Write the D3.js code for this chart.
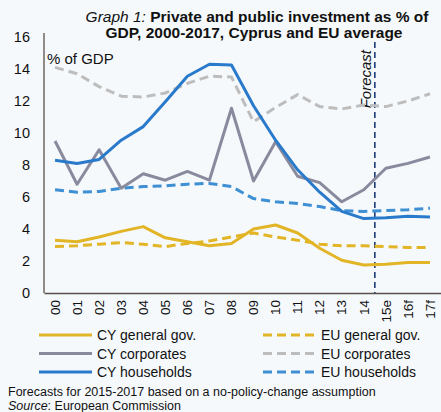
<!DOCTYPE html>
<html>
<head>
<meta charset="utf-8">
<script src="https://cdn.jsdelivr.net/npm/d3@7"></script>
<style>
  body { margin: 0; background: #f6f9fc; }
  svg { display: block; font-family: "Liberation Sans", Arial, sans-serif; }
  .lbl { fill: #111; }
</style>
</head>
<body>
<div id="chart"></div>
<script>

/*
 * Data.
 */

var years = ['00', '01', '02', '03', '04', '05', '06', '07', '08', '09',
  '10', '11', '12', '13', '14', '15e', '16f', '17f'];

var cyGov = [3.3, 3.2, 3.5, 3.85, 4.15, 3.45, 3.2, 2.95, 3.1, 4.0,
  4.25, 3.75, 2.8, 2.05, 1.75, 1.8, 1.9, 1.9];
var euGov = [2.9, 2.95, 3.05, 3.15, 3.05, 2.9, 3.1, 3.25, 3.5, 3.75,
  3.5, 3.3, 3.05, 2.95, 2.95, 2.9, 2.85, 2.85];
var cyCorp = [9.5, 6.8, 8.95, 6.55, 7.45, 7.05, 7.6, 7.05, 11.55, 7.0,
  9.45, 7.3, 6.9, 5.7, 6.45, 7.8, 8.1, 8.5];
var euCorp = [14.1, 13.7, 12.9, 12.3, 12.25, 12.5, 13.1, 13.55, 13.5, 10.7,
  11.6, 12.4, 11.65, 11.5, 11.75, 11.65, 12.0, 12.45];
var cyHouse = [8.3, 8.1, 8.35, 9.55, 10.4, 11.95, 13.55, 14.3, 14.25, 11.7,
  9.55, 7.7, 6.3, 5.1, 4.65, 4.7, 4.8, 4.75];
var euHouse = [6.45, 6.3, 6.35, 6.55, 6.65, 6.7, 6.8, 6.85, 6.65, 5.9,
  5.7, 5.6, 5.4, 5.15, 5.1, 5.15, 5.2, 5.3];

var yTicks = [0, 2, 4, 6, 8, 10, 12, 14, 16];

// Series definitions (drawing order: back to front).
var series = [
  { name: 'EU general gov.', values: euGov, color: '#e2b527', dash: true },
  { name: 'EU corporates', values: euCorp, color: '#bdbdbd', dash: true },
  { name: 'EU households', values: euHouse, color: '#3e8fd3', dash: true },
  { name: 'CY general gov.', values: cyGov, color: '#e2b527', dash: false },
  { name: 'CY corporates', values: cyCorp, color: '#8a8a9e', dash: false },
  { name: 'CY households', values: cyHouse, color: '#2a7acb', dash: false }
];

/*
 * Chart.
 */

var width = 441;
var height = 412;
var plot = { left: 44, right: 441, top: 37, bottom: 293 };

var svg = d3.select('#chart').append('svg:svg')
  .attr('width', width)
  .attr('height', height);

// Scales.
var x = d3.scaleBand()
  .domain(years)
  .range([plot.left, plot.right])
  .padding(0);
var y = d3.scaleLinear()
  .domain([0, 16])
  .range([plot.bottom, plot.top]);

var cx = function(d) { return x(d) + x.bandwidth() / 2; };

// Title.
var title = svg.append('svg:text')
  .attr('class', 'lbl')
  .attr('text-anchor', 'middle')
  .style('font-size', '15.5px');
title.append('svg:tspan')
  .attr('x', 257).attr('y', 22)
  .style('font-style', 'italic')
  .text('Graph 1: ');
title.append('svg:tspan')
  .style('font-weight', 'bold')
  .text('Private and public investment as % of');
title.append('svg:tspan')
  .attr('x', 254).attr('y', 38)
  .style('font-weight', 'bold')
  .text('GDP, 2000-2017, Cyprus and EU average');

// Y axis.
var yAxis = svg.append('svg:g')
  .attr('transform', 'translate(' + plot.left + ',0)')
  .call(d3.axisLeft(y).tickValues(yTicks).tickSize(0).tickPadding(14));
yAxis.select('.domain').attr('stroke', '#5a4f4a').attr('stroke-width', 1.3)
  .attr('d', 'M0,' + (plot.top - 4) + 'V' + plot.bottom);
yAxis.selectAll('text')
  .attr('class', 'lbl')
  .style('font-size', '14.5px')
  .style('font-family', '"Liberation Sans", Arial, sans-serif');

// X axis.
var xAxis = svg.append('svg:g')
  .attr('transform', 'translate(0,' + plot.bottom + ')')
  .call(d3.axisBottom(x).tickSize(0));
xAxis.select('.domain').attr('stroke', '#5a4f4a').attr('stroke-width', 1.3);
xAxis.selectAll('text')
  .attr('class', 'lbl')
  .attr('transform', 'rotate(-90)')
  .attr('text-anchor', 'end')
  .attr('x', -7)
  .attr('y', 0)
  .attr('dy', '0.35em')
  .style('font-size', '13.5px')
  .style('font-family', '"Liberation Sans", Arial, sans-serif');

// Unit label.
svg.append('svg:text')
  .attr('class', 'lbl')
  .attr('x', 47)
  .attr('y', 64)
  .style('font-size', '15px')
  .text('% of GDP');

// Forecast divider.
var fx = x('15e');
svg.append('svg:line')
  .attr('x1', fx).attr('x2', fx)
  .attr('y1', 42).attr('y2', plot.bottom)
  .attr('stroke', '#1f3b7a')
  .attr('stroke-width', 1.6)
  .attr('stroke-dasharray', '6,4');
svg.append('svg:text')
  .attr('class', 'lbl')
  .attr('transform', 'translate(' + (fx - 4) + ',50) rotate(-90)')
  .attr('text-anchor', 'end')
  .style('font-size', '15px')
  .style('font-style', 'italic')
  .text('Forecast');

// Lines.
var line = d3.line()
  .x(function(d, i) { return cx(years[i]); })
  .y(function(d) { return y(d); });

var lines = svg.append('svg:g');
series.forEach(function(s) {
  lines.append('svg:path')
    .attr('d', line(s.values))
    .attr('fill', 'none')
    .attr('stroke', s.color)
    .attr('stroke-width', 3)
    .attr('stroke-linejoin', 'round')
    .attr('stroke-dasharray', s.dash ? '9,5' : null);
});

// Legend: CY solid on the left, EU dashed on the right.
var legend = [
  [series[3], series[0]],
  [series[4], series[1]],
  [series[5], series[2]]
];
legend.forEach(function(row, r) {
  var ly = 335 + r * 18.5;
  row.forEach(function(s, c) {
    var lx = c === 0 ? 39 : 263;
    svg.append('svg:line')
      .attr('x1', lx).attr('x2', lx + 53)
      .attr('y1', ly).attr('y2', ly)
      .attr('stroke', s.color)
      .attr('stroke-width', 3)
      .attr('stroke-dasharray', s.dash ? '9,5' : null);
    svg.append('svg:text')
      .attr('class', 'lbl')
      .attr('x', lx + 58)
      .attr('y', ly + 5)
      .style('font-size', '14px')
      .text(s.name);
  });
});

// Footnotes.
svg.append('svg:text')
  .attr('class', 'lbl')
  .attr('x', 8).attr('y', 396)
  .style('font-size', '12.5px')
  .text('Forecasts for 2015-2017 based on a no-policy-change assumption');
var src = svg.append('svg:text')
  .attr('class', 'lbl')
  .attr('x', 8).attr('y', 410)
  .style('font-size', '12.5px');
src.append('svg:tspan').style('font-style', 'italic').text('Source');
src.append('svg:tspan').text(': European Commission');

</script>
</body>
</html>
